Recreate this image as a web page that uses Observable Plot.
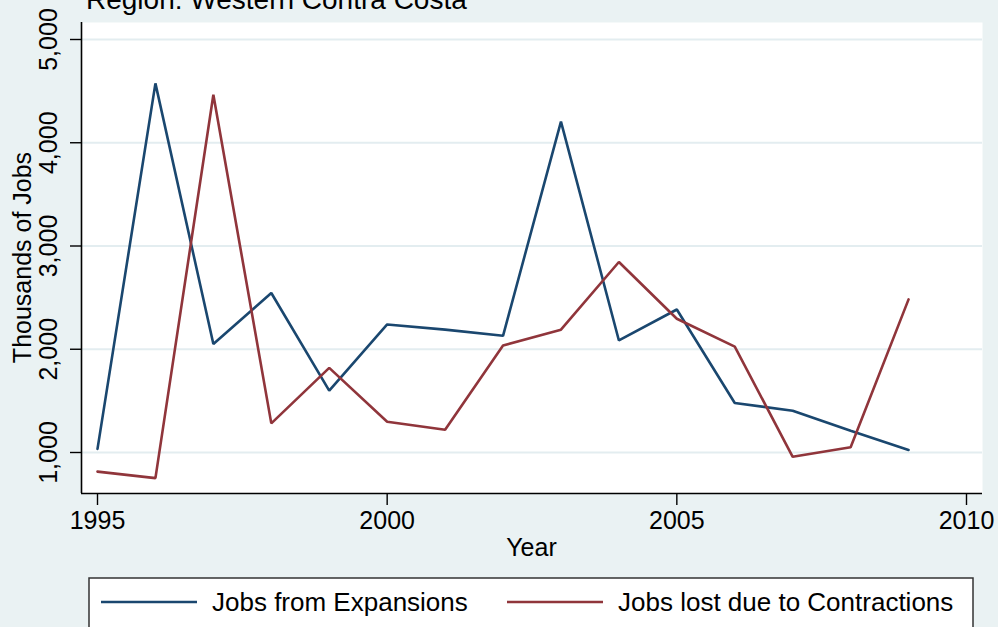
<!DOCTYPE html>
<html>
<head>
<meta charset="utf-8">
<script src="https://cdn.jsdelivr.net/npm/d3@7"></script>
<script src="https://cdn.jsdelivr.net/npm/@observablehq/plot@0.6"></script>
<style>
  html, body { margin: 0; padding: 0; background: #EAF2F3; }
  #chart { width: 998px; height: 627px; overflow: hidden; position: relative; }
  svg { font-family: "Liberation Sans", Arial, sans-serif; }
</style>
</head>
<body>
<div id="chart"></div>
<script>
const years = [1995, 1996, 1997, 1998, 1999, 2000, 2001, 2002, 2003, 2004, 2005, 2006, 2007, 2008, 2009];
const expansions = [1035, 4575, 2050, 2545, 1600, 2240, 2190, 2130, 4205, 2085, 2385, 1480, 1405, 1210, 1025];
const contractions = [815, 752, 4465, 1282, 1820, 1298, 1220, 2036, 2190, 2845, 2295, 2026, 958, 1050, 2483];
const seriesNames = ["Jobs from Expansions", "Jobs lost due to Contractions"];
const seriesColors = ["#1A476F", "#90353B"];
const yTicks = [1000, 2000, 3000, 4000, 5000];
const xTicks = [1995, 2000, 2005, 2010];
const titleText = "Region: Western Contra Costa";
const yLabel = "Thousands of Jobs";
const xLabel = "Year";

const rows = [];
years.forEach((yr, i) => {
  rows.push({year: yr, value: expansions[i], series: seriesNames[0]});
  rows.push({year: yr, value: contractions[i], series: seriesNames[1]});
});

const W = 998, H = 627;
const mL = 81, mR = 16, mT = 22, mB = 134;
// x: 1995 at 97px, 2010 at 966px ; y: 5000 at 39px, 1000 at 452px
const pxYear = (966 - 97) / 15;
const xDom = [1995 - (97 - mL) / pxYear, 2010 + ((W - mR) - 966) / pxYear];
const pxK = (452 - 39) / 4000;
const yDom = [1000 - ((H - mB) - 452) / pxK, 5000 + (39 - mT) / pxK];

const fs = 25;
const plot = Plot.plot({
  width: W,
  height: H,
  marginLeft: mL, marginRight: mR, marginTop: mT, marginBottom: mB,
  style: {background: "#EAF2F3", fontFamily: "Liberation Sans, Arial, sans-serif", fontSize: fs + "px", color: "#000"},
  x: {domain: xDom},
  y: {domain: yDom},
  color: {domain: seriesNames, range: seriesColors},
  marks: [
    Plot.frame({fill: "white"}),
    Plot.ruleY(yTicks, {stroke: "#E3EDF0", strokeWidth: 2}),
    Plot.line(rows, {x: "year", y: "value", z: "series", stroke: "series", strokeWidth: 2.6, strokeLinejoin: "miter"}),
    Plot.ruleY([yDom[0]], {stroke: "#000", strokeWidth: 1.6}),
    Plot.ruleX([xDom[0]], {stroke: "#000", strokeWidth: 1.6}),
    Plot.axisY({ticks: yTicks, tickSize: 11, tickFormat: () => "", stroke: "#000", strokeWidth: 1.4, label: null}),
    Plot.text(yTicks, {y: d => d, text: d => d3.format(",")(d), frameAnchor: "left", dx: -33, rotate: -90,
      textAnchor: "middle", lineAnchor: "middle", fontSize: fs, fill: "#000"}),
    Plot.axisX({ticks: xTicks, tickSize: 12, tickPadding: 6, tickFormat: d => String(d), stroke: "#000", strokeWidth: 1.4, fontSize: fs, label: null})
  ]
});

document.getElementById("chart").appendChild(plot);
const svg = d3.select(plot);
const font = "Liberation Sans, Arial, sans-serif";

svg.append("text").attr("x", 86).attr("y", 9).attr("text-anchor", "start").attr("font-size", 28).attr("font-family", font)
  .attr("fill", "#000").text(titleText);

svg.append("text").attr("transform", `translate(31,${(mT + H - mB) / 2}) rotate(-90)`)
  .attr("text-anchor", "middle").attr("font-size", fs).attr("font-family", font).attr("fill", "#000").text(yLabel);

svg.append("text").attr("x", (mL + W - mR) / 2).attr("y", 556).attr("text-anchor", "middle")
  .attr("font-size", fs).attr("font-family", font).attr("fill", "#000").text(xLabel);

// legend
const lg = svg.append("g");
lg.append("rect").attr("x", 89).attr("y", 578).attr("width", 884).attr("height", 70)
  .attr("fill", "white").attr("stroke", "#333").attr("stroke-width", 1.5);
const legX = [101, 507];
seriesNames.forEach((name, i) => {
  lg.append("line").attr("x1", legX[i]).attr("x2", legX[i] + 96).attr("y1", 602).attr("y2", 602)
    .attr("stroke", seriesColors[i]).attr("stroke-width", 2.6);
  lg.append("text").attr("x", legX[i] + 111).attr("y", 611).attr("text-anchor", "start").attr("font-size", 26).attr("font-family", font)
    .attr("fill", "#000").text(name);
});
</script>
</body>
</html>
